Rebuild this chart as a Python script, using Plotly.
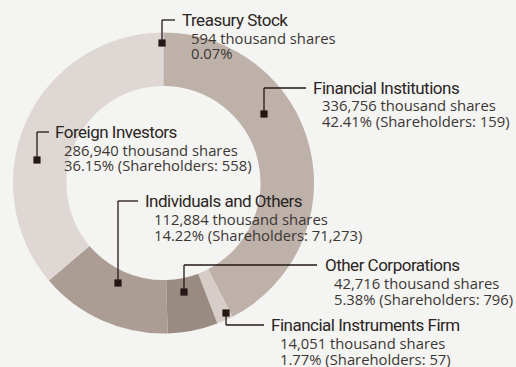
import plotly.graph_objects as go

# Shareholder composition (clockwise from 12 o'clock)
categories = [
    "Financial Institutions",
    "Financial Instruments Firm",
    "Other Corporations",
    "Individuals and Others",
    "Foreign Investors",
    "Treasury Stock",
]
shares_k = [336756, 14051, 42716, 112884, 286940, 594]
percents = [42.41, 1.77, 5.38, 14.22, 36.15, 0.07]
holders = ["159", "57", "796", "71,273", "558", None]

slice_colors = ["#bdb1a9", "#d6cdc8", "#9a8b82", "#ab9d94", "#ded7d3", "#cfc6c1"]

W, H = 516, 367
BG = "#f4f4f2"
INK = "#231815"
TXT = "#3c3734"

# Donut geometry in pixels
cx, cy, R = 163.5, 183.0, 150.5

fig = go.Figure(
    go.Pie(
        labels=categories,
        values=percents,
        hole=0.645,
        sort=False,
        direction="clockwise",
        rotation=0,
        marker=dict(colors=slice_colors, line=dict(width=0)),
        textinfo="none",
        hoverinfo="label+percent",
        showlegend=False,
        domain=dict(x=[(cx - R) / W, (cx + R) / W],
                    y=[1 - (cy + R) / H, 1 - (cy - R) / H]),
    )
)

# Label layout: leader square, elbow corner, title anchor, text column
label_layout = {
    "Treasury Stock":             dict(sq=(162, 43),  corner=(162, 20),  end=175, tx=180, ty=20,  bx=189),
    "Financial Institutions":     dict(sq=(264, 114), corner=(264, 88),  end=306, tx=311, ty=88,  bx=320),
    "Foreign Investors":          dict(sq=(37, 160),  corner=(37, 132),  end=49,  tx=53,  ty=132, bx=62),
    "Individuals and Others":     dict(sq=(118, 283), corner=(118, 201), end=138, tx=143, ty=201, bx=152),
    "Other Corporations":         dict(sq=(184, 292), corner=(184, 265), end=317, tx=323, ty=265, bx=332),
    "Financial Instruments Firm": dict(sq=(226, 313), corner=(226, 325), end=264, tx=269, ty=325, bx=278),
}


def px(x):
    return x / W


def py(y):
    return 1 - y / H


shapes = []
annotations = []
for name, sh, pct, hold in zip(categories, shares_k, percents, holders):
    L = label_layout[name]
    sx, sy = L["sq"]
    kx, ky = L["corner"]
    # leader line: vertical from square to corner, then horizontal to the title
    shapes.append(dict(type="line", xref="paper", yref="paper",
                       x0=px(sx), y0=py(sy), x1=px(kx), y1=py(ky),
                       line=dict(color=INK, width=1.3)))
    shapes.append(dict(type="line", xref="paper", yref="paper",
                       x0=px(kx), y0=py(ky), x1=px(L["end"]), y1=py(ky),
                       line=dict(color=INK, width=1.3)))
    s = 3.6
    shapes.append(dict(type="rect", xref="paper", yref="paper",
                       x0=px(sx - s), x1=px(sx + s), y0=py(sy + s), y1=py(sy - s),
                       fillcolor=INK, line=dict(width=0)))

    lines = [f"{sh:,} thousand shares"]
    if hold:
        lines.append(f"{pct:.2f}% (Shareholders: {hold})")
    else:
        lines.append(f"{pct:.2f}%")

    annotations.append(dict(text=f'<span style="letter-spacing:-0.5px">{name}</span>',
                            xref="paper", yref="paper",
                            x=px(L["tx"]), y=py(L["ty"]), xanchor="left", yanchor="middle",
                            showarrow=False,
                            font=dict(family="Roboto", size=17, color="#2b2523")))
    for i, t in enumerate(lines):
        annotations.append(dict(text=t, xref="paper", yref="paper",
                                x=px(L["bx"]), y=py(L["ty"] + 17.5 + 16 * i),
                                xanchor="left", yanchor="middle", showarrow=False,
                                font=dict(family="Open Sans", size=14.8, color=TXT)))

fig.update_layout(
    width=W, height=H,
    margin=dict(l=0, r=0, t=0, b=0),
    paper_bgcolor=BG, plot_bgcolor=BG,
    shapes=shapes,
    annotations=annotations,
)

fig.write_html("out.html", config={"displayModeBar": False})
